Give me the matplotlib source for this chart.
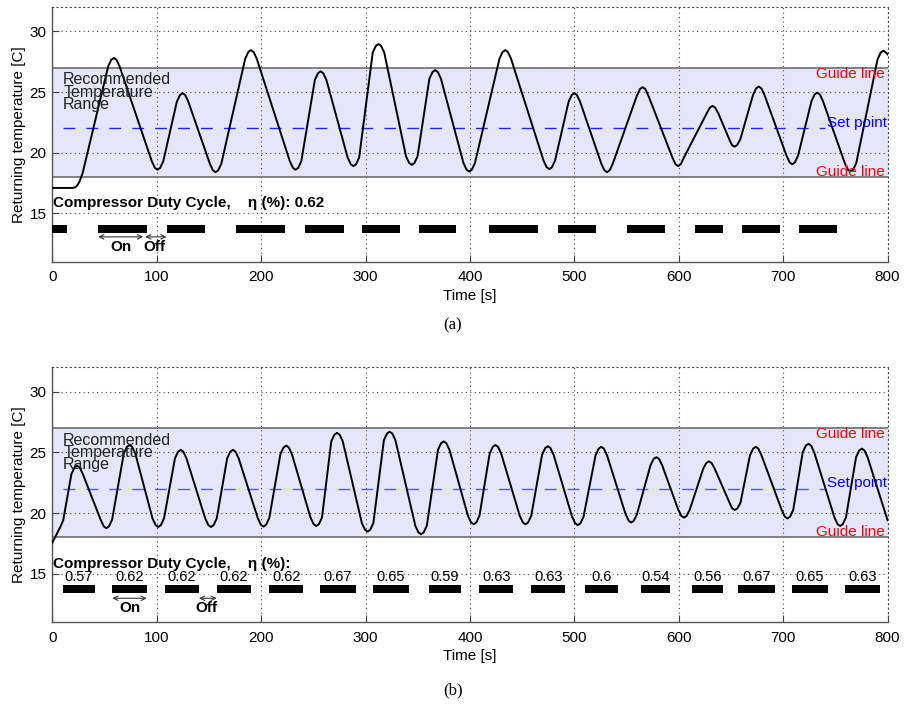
import matplotlib
matplotlib.use('Agg')
import matplotlib.pyplot as plt

plt.rcParams['font.family'] = ['Liberation Sans', 'DejaVu Sans']

# ---------------- data ----------------
x_ticks = [0, 100, 200, 300, 400, 500, 600, 700, 800]
y_ticks = [15, 20, 25, 30]

band_low, band_high, set_point = 18, 27, 22

# panel (a): returning temperature
t_a = [0, 20, 23, 26, 29,
       53.5, 56.5, 59, 61.5, 64.5,
       95.3, 98.3, 100.8, 103.3, 106.3,
       119.3, 122.3, 124.8, 127.3, 130.3,
       150.9, 153.9, 156.4, 158.9, 161.9,
       184.8, 187.8, 190.3, 192.8, 195.8,
       227.5, 230.5, 233, 235.5, 238.5,
       251.5, 254.5, 257, 259.5, 262.5,
       282.9, 285.9, 288.4, 290.9, 293.9,
       306.9, 309.9, 312.4, 314.9, 317.9,
       338.8, 341.8, 344.3, 346.8, 349.8,
       361.2, 364.2, 366.7, 369.2, 372.2,
       393.8, 396.8, 399.3, 401.8, 404.8,
       428.3, 431.3, 433.8, 436.3, 439.3,
       470.5, 473.5, 476, 478.5, 481.5,
       494.5, 497.5, 500, 502.5, 505.5,
       525.8, 528.8, 531.3, 533.8, 536.8,
       559.9, 562.9, 565.4, 567.9, 570.9,
       593.9, 596.9, 599.4, 601.9, 604.9,
       626.8, 629.8, 632.3, 634.8, 637.8,
       648.4, 650.9, 653.4, 655.9, 658.9,
       671.1, 674.1, 676.6, 679.1, 682.1,
       703.2, 706.2, 708.7, 711.2, 714.2,
       727.1, 730.1, 732.6, 735.1, 738.1,
       759, 762, 764.5, 767, 770,
       790.4, 793.4, 795.9, 798.4, 800]
temp_a = [17.1, 17.1, 17.2, 17.6, 18.3,
          27.1, 27.65, 27.8, 27.65, 27.1,
          19.3, 18.75, 18.6, 18.75, 19.3,
          24.2, 24.75, 24.9, 24.75, 24.2,
          19.1, 18.55, 18.4, 18.55, 19.1,
          27.75, 28.3, 28.45, 28.3, 27.75,
          19.3, 18.75, 18.6, 18.75, 19.3,
          26.0, 26.55, 26.7, 26.55, 26.0,
          19.6, 19.05, 18.9, 19.05, 19.6,
          28.25, 28.8, 28.95, 28.8, 28.25,
          19.7, 19.15, 19.0, 19.15, 19.7,
          26.1, 26.65, 26.8, 26.65, 26.1,
          19.15, 18.6, 18.45, 18.6, 19.15,
          27.75, 28.3, 28.45, 28.3, 27.75,
          19.35, 18.8, 18.65, 18.8, 19.35,
          24.2, 24.75, 24.9, 24.75, 24.2,
          19.1, 18.55, 18.4, 18.55, 19.1,
          24.7, 25.25, 25.4, 25.25, 24.7,
          19.6, 19.05, 18.9, 19.05, 19.6,
          23.25, 23.72, 23.85, 23.72, 23.25,
          21.1, 20.63, 20.5, 20.63, 21.1,
          24.75, 25.3, 25.45, 25.3, 24.75,
          19.75, 19.2, 19.05, 19.2, 19.75,
          24.25, 24.8, 24.95, 24.8, 24.25,
          19.15, 18.6, 18.45, 18.6, 19.15,
          27.7, 28.25, 28.4, 28.25, 28.1]
on_start_a = [0, 44, 109.5, 175.5, 242, 296.5, 351.5, 418, 484.5, 550.5, 616, 660.5, 715.5]
on_end_a = [14, 91, 146, 223, 279, 333, 387, 465.5, 521, 587, 642.5, 697, 752]
duty_a = 0.62

# panel (b)
t_b = [0, 8, 10.5,
       18.3, 21.3, 23.8, 26.3, 29.3,
       46.3, 49.3, 51.8, 54.3, 57.3,
       68.5, 71.5, 74, 76.5, 79.5,
       96, 99, 101.5, 104, 107,
       117.5, 120.5, 123, 125.5, 128.5,
       146.5, 149.5, 152, 154.5, 157.5,
       167.5, 170.5, 173, 175.5, 178.5,
       196.8, 199.8, 202.3, 204.8, 207.8,
       218.5, 221.5, 224, 226.5, 229.5,
       247.3, 250.3, 252.8, 255.3, 258.3,
       267.2, 270.2, 272.7, 275.2, 278.2,
       296.5, 299.5, 302, 304.5, 307.5,
       317.6, 320.6, 323.1, 325.6, 328.6,
       347.7, 350.7, 353.2, 355.7, 358.7,
       369.4, 372.4, 374.9, 377.4, 380.4,
       398.1, 401.1, 403.6, 406.1, 409.1,
       418.9, 421.9, 424.4, 426.9, 429.9,
       447.7, 450.7, 453.2, 455.7, 458.7,
       469.1, 472.1, 474.6, 477.1, 480.1,
       497.8, 500.8, 503.3, 505.8, 508.8,
       520.3, 523.3, 525.8, 528.3, 531.3,
       549, 552, 554.5, 557, 560,
       573, 576, 578.5, 581, 584,
       599.5, 602.5, 605, 607.5, 610.5,
       623.4, 626.4, 628.9, 631.4, 634.4,
       648.6, 651.1, 653.6, 656.1, 659.1,
       668.2, 671.2, 673.7, 676.2, 679.2,
       698.6, 701.6, 704.1, 706.6, 709.6,
       718.7, 721.7, 724.2, 726.7, 729.7,
       749.1, 752.1, 754.6, 757.1, 760.1,
       769.8, 772.8, 775.3, 777.8, 780.8,
       800]
temp_b = [17.55, 18.9, 19.4,
          23.2, 23.75, 23.9, 23.75, 23.2,
          19.45, 18.9, 18.75, 18.9, 19.45,
          24.9, 25.45, 25.6, 25.45, 24.9,
          19.55, 19.0, 18.85, 19.0, 19.55,
          24.5, 25.05, 25.2, 25.05, 24.5,
          19.55, 19.0, 18.85, 19.0, 19.55,
          24.5, 25.05, 25.2, 25.05, 24.5,
          19.58, 19.03, 18.88, 19.03, 19.58,
          24.85, 25.4, 25.55, 25.4, 24.85,
          19.63, 19.08, 18.93, 19.08, 19.63,
          25.9, 26.45, 26.6, 26.45, 25.9,
          19.17, 18.62, 18.47, 18.62, 19.17,
          26.0, 26.55, 26.7, 26.55, 26.0,
          18.95, 18.4, 18.25, 18.4, 18.95,
          25.2, 25.75, 25.9, 25.75, 25.2,
          19.77, 19.22, 19.07, 19.22, 19.77,
          24.9, 25.45, 25.6, 25.45, 24.9,
          19.77, 19.22, 19.07, 19.22, 19.77,
          24.8, 25.35, 25.5, 25.35, 24.8,
          19.7, 19.15, 19.0, 19.15, 19.7,
          24.75, 25.3, 25.45, 25.3, 24.75,
          19.92, 19.37, 19.22, 19.37, 19.92,
          23.95, 24.46, 24.6, 24.46, 23.95,
          20.27, 19.76, 19.62, 19.76, 20.27,
          23.65, 24.12, 24.25, 24.12, 23.65,
          20.85, 20.38, 20.25, 20.38, 20.85,
          24.75, 25.3, 25.45, 25.3, 24.75,
          20.25, 19.7, 19.55, 19.7, 20.25,
          25.0, 25.55, 25.7, 25.55, 25.0,
          19.63, 19.08, 18.93, 19.08, 19.63,
          24.6, 25.15, 25.3, 25.15, 24.6,
          19.4]
on_start_b = [10.5, 57.5, 107.5, 157.5, 208, 256, 307, 360.5, 409, 458.5, 510, 564, 613, 657, 708, 759.5]
on_end_b = [40.5, 90.5, 140.5, 190.5, 240.5, 291, 341.5, 391, 441.5, 491.5, 541.5, 591.5, 642.5, 692, 743, 793]
duty_b = ['0.57', '0.62', '0.62', '0.62', '0.62', '0.67', '0.65', '0.59',
          '0.63', '0.63', '0.6', '0.54', '0.56', '0.67', '0.65', '0.63']

# ---------------- figure ----------------
fig = plt.figure(figsize=(9.06, 7.07), dpi=100)
ax_a = fig.add_axes([0.0577, 0.6294, 0.922, 0.3607])
ax_b = fig.add_axes([0.0577, 0.1198, 0.922, 0.3607])

GRID = (0, (1, 3))


def base(ax, setcolor):
    ax.set_xlim(0, 800)
    ax.set_ylim(11, 32)
    ax.set_xticks(x_ticks)
    ax.set_yticks(y_ticks)
    ax.grid(True, color='#444444', linestyle=GRID, linewidth=0.8)
    ax.tick_params(direction='in', length=5, labelsize=11, pad=6, color='#444444')
    ax.tick_params(axis='y', pad=4)
    for s in ['left', 'bottom']:
        ax.spines[s].set_color('#555555')
        ax.spines[s].set_linewidth(1.0)
    for s in ['top', 'right']:
        ax.spines[s].set_linestyle(GRID)
        ax.spines[s].set_color('#444444')
        ax.spines[s].set_linewidth(0.8)
    ax.axhspan(band_low, band_high, facecolor='#e6e6fa', edgecolor='none', zorder=0)
    ax.axhline(band_low, color='#777777', lw=1.3, zorder=2)
    ax.axhline(band_high, color='#777777', lw=1.3, zorder=2)
    ax.plot([10, 740], [set_point, set_point], color=setcolor, lw=1.0,
            dashes=(8.5, 8), zorder=2)
    ax.set_xlabel('Time [s]', fontsize=11, labelpad=3)
    ax.set_ylabel('Returning temperature [C]', fontsize=11, labelpad=3)
    ax.text(10.5, 26.0, 'Recommended', fontsize=11.5, va='center', color='#222222', zorder=4)
    ax.text(10.5, 25.0, 'Temperature', fontsize=11.5, va='center', color='#222222', zorder=4)
    ax.text(10.5, 24.0, 'Range', fontsize=11.5, va='center', color='#222222', zorder=4)
    ax.text(797, 26.5, 'Guide line', fontsize=11, color='red', ha='right', va='center', zorder=4)
    ax.text(797, 18.45, 'Guide line', fontsize=11, color='red', ha='right', va='center', zorder=4)
    ax.text(799, 22.45, 'Set point', fontsize=11, color='blue', ha='right', va='center', zorder=4)


def arrow(ax, x0, x1, y):
    ax.annotate('', xy=(x1, y), xytext=(x0, y),
                arrowprops=dict(arrowstyle='<->', lw=0.8, color='#333333',
                                shrinkA=0, shrinkB=0, mutation_scale=8), zorder=4)


# panel (a)
base(ax_a, '#2222ff')
ax_a.plot(t_a, temp_a, color='black', lw=1.4, zorder=3, solid_joinstyle='round')
ax_a.broken_barh([(s, e - s) for s, e in zip(on_start_a, on_end_a)], (13.42, 0.62),
                 facecolors='black', zorder=3)
ax_a.text(1, 15.85, 'Compressor Duty Cycle,    η (%): ' + str(duty_a),
          fontsize=11, fontweight='bold', va='center', zorder=4)
arrow(ax_a, on_start_a[1], on_end_a[1] - 4, 13.07)
arrow(ax_a, on_end_a[1] - 2, on_start_a[2], 13.07)
ax_a.text(65.5, 12.2, 'On', fontsize=11, ha='center', va='center', fontweight='bold')
ax_a.text(98, 12.2, 'Off', fontsize=11, ha='center', va='center', fontweight='bold')

# panel (b)
base(ax_b, '#5555ff')
ax_b.plot(t_b, temp_b, color='black', lw=1.4, zorder=3, solid_joinstyle='round')
ax_b.broken_barh([(s, e - s) for s, e in zip(on_start_b, on_end_b)], (13.44, 0.62),
                 facecolors='black', zorder=3)
ax_b.text(1, 15.8, 'Compressor Duty Cycle,    η (%):',
          fontsize=11, fontweight='bold', va='center', zorder=4)
for s, e, lab in zip(on_start_b, on_end_b, duty_b):
    ax_b.text((s + e) / 2, 14.72, lab, fontsize=10.5, ha='center', va='center', zorder=4)
arrow(ax_b, on_start_b[1], on_end_b[1], 12.98)
arrow(ax_b, on_end_b[2], on_start_b[3], 12.98)
ax_b.text(74, 12.16, 'On', fontsize=11, ha='center', va='center', fontweight='bold')
ax_b.text(148, 12.16, 'Off', fontsize=11, ha='center', va='center', fontweight='bold')

fig.text(0.5, 0.540, '(a)', family=['Liberation Serif', 'DejaVu Serif'], fontsize=12,
         ha='center', va='center')
fig.text(0.5, 0.024, '(b)', family=['Liberation Serif', 'DejaVu Serif'], fontsize=12,
         ha='center', va='center')

fig.savefig('out.png', dpi=100)
